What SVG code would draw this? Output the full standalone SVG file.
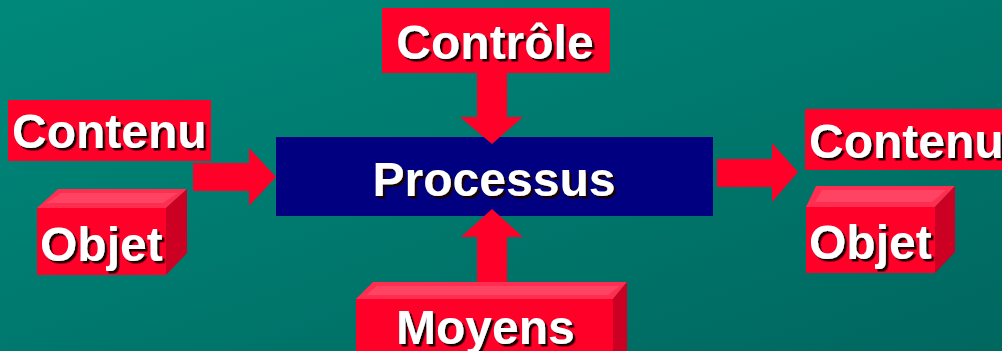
<svg xmlns="http://www.w3.org/2000/svg" width="1002" height="351" viewBox="0 0 1002 351">
<defs>
<linearGradient id="bg" x1="0" y1="0" x2="1" y2="1">
<stop offset="0" stop-color="#00897B"/>
<stop offset="1" stop-color="#00675F"/>
</linearGradient>
<filter id="sh" x="-10%" y="-20%" width="130%" height="150%">
<feDropShadow dx="2.5" dy="2.5" stdDeviation="0.6" flood-color="#1a0000" flood-opacity="1"/>
</filter>
</defs>
<style>
.red{fill:#FF0029}
.top{fill:#FF2D4F}
.topi{fill:#FF4463}
.side{fill:#CC0022}
.blue{fill:#000080}
.t{font-family:"Liberation Sans",Arial,sans-serif;font-weight:bold;font-size:48px;fill:#fff;filter:url(#sh)}
</style>
<rect width="1002" height="351" fill="url(#bg)"/>

<g id="processus">
<rect class="blue" x="276" y="137" width="437" height="79"/>
<text class="t" x="494" y="196" text-anchor="middle">Processus</text>
</g>

<g id="connectors">
<polygon class="red" points="193,163 249,163 249,148 276,177 249,206 249,191 193,191"/>
<polygon class="red" points="477,73 507,73 507,117 523,117 492,144 460,117 477,117"/>
<polygon class="red" points="477,282 477,237 461,237 492,209 523,237 507,237 507,282"/>
<polygon class="red" points="717,159 772,159 772,143 798,172 772,202 772,187 717,187"/>
</g>

<g id="controle">
<rect class="red" x="382" y="8" width="228" height="65"/>
<text class="t" x="495" y="59" text-anchor="middle">Contrôle</text>
</g>

<g id="contenu-in">
<rect class="red" x="8" y="100" width="203" height="61"/>
<text class="t" x="12" y="148">Contenu</text>
</g>

<g id="objet-in">
<polygon class="top" points="37,208 58,189 187,189 166,208"/>
<polygon class="topi" points="46,203 61,193 178,193 163,203"/>
<polygon class="side" points="166,208 187,189 187,253 166,275"/>
<rect class="red" x="37" y="208" width="129" height="67"/>
<text class="t" x="40" y="261">Objet</text>
</g>

<g id="moyens">
<polygon class="top" points="356,299 373,282 627,282 613,299"/>
<polygon class="topi" points="366,295 377,286 620,286 608,295"/>
<polygon class="side" points="613,299 627,282 627,351 613,351"/>
<rect class="red" x="356" y="299" width="257" height="52"/>
<text class="t" x="396" y="344">Moyens</text>
</g>

<g id="contenu-out">
<rect class="red" x="805" y="109" width="197" height="61"/>
<text class="t" x="809" y="158">Contenu</text>
</g>

<g id="objet-out">
<polygon class="top" points="806,207 816,186 955,186 935,207"/>
<polygon class="topi" points="815,202 822,190 946,190 932,202"/>
<polygon class="side" points="935,207 955,186 955,252 935,273"/>
<rect class="red" x="806" y="207" width="129" height="66"/>
<text class="t" x="809" y="259">Objet</text>
</g>
</svg>
